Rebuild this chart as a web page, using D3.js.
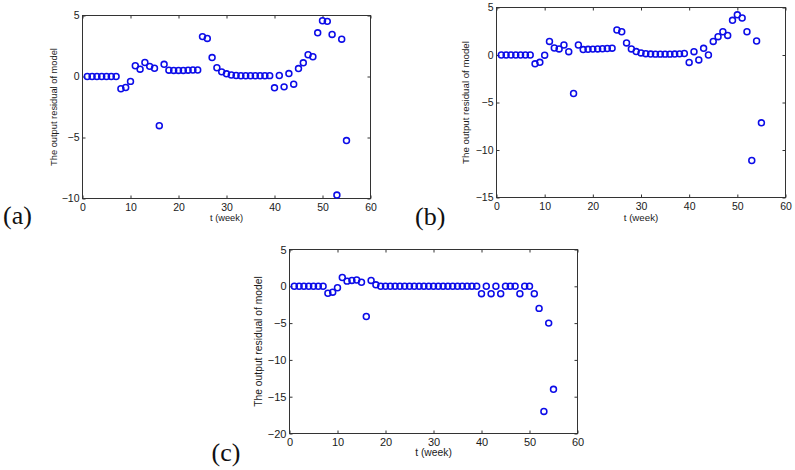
<!DOCTYPE html>
<html><head><meta charset="utf-8">
<script src="https://cdn.jsdelivr.net/npm/d3@7"></script>
<style>html,body{margin:0;padding:0;background:#fff}svg{display:block}</style>
</head><body><svg id="chart" width="795" height="470"></svg>
<script>
// ---------- data ----------
const weeks = [1,2,3,4,5,6,7,8,9,10,11,12,13,14,15,16,17,18,19,20,21,22,23,24,25,26,27,28,29,30,
  31,32,33,34,35,36,37,38,39,40,41,42,43,44,45,46,47,48,49,50,51,52,53,54,55];
const residualA = [0,0,0,0,0,0,0,-1.0,-0.9,-0.4,0.88,0.6,1.15,0.83,0.68,-4.03,1.0,0.52,0.5,0.5,
  0.5,0.52,0.53,0.53,3.27,3.12,1.55,0.72,0.38,0.22,0.12,0.08,0.06,0.06,0.06,0.06,0.06,0.06,0.07,-0.93,
  0.08,-0.85,0.24,-0.63,0.65,1.12,1.78,1.62,3.58,4.57,4.52,3.45,-9.72,3.06,-5.25];
const residualB = [0,0,0,0,0,0,0,-0.93,-0.77,-0.02,1.43,0.74,0.64,1.05,0.35,-4.05,1.05,0.57,0.6,0.62,
  0.64,0.66,0.68,0.72,2.63,2.45,1.27,0.64,0.36,0.22,0.14,0.1,0.09,0.09,0.09,0.09,0.1,0.12,0.16,-0.78,
  0.35,-0.52,0.7,0.0,1.43,1.93,2.45,2.06,3.65,4.23,3.9,2.45,-11.1,1.47,-7.14];
const residualC = [0,0,0,0,0,0,0,-0.95,-0.8,-0.2,1.2,0.7,0.8,0.85,0.55,-4.1,0.8,0.2,0,0,
  0,0,0,0,0,0,0,0,0,0,0,0,0,0,0,0,0,0,0,-1,
  0,-1,0,-1,0,0,0,-1,0,0,-1,-3,-17,-5,-14];
const xTicks = [0,10,20,30,40,50,60];
const yTicksA = [5,0,-5,-10];
const yTicksB = [5,0,-5,-10,-15];
const yTicksC = [5,0,-5,-10,-15,-20];
const panelLabels = ["(a)","(b)","(c)"];
const xTitle = "t (week)";
const yTitle = "The output residual of model";

// ---------- layout ----------
const panels = [
  {values: residualA, yDomain: [-10, 5], yTicks: yTicksA, label: panelLabels[0],
   l: 82.5, r: 370.5, t: 15.5, b: 198.5, tickFs: 10.5, titleFs: 9.3,
   yTitleX: 54, xTitleY: 220.8, labelX: 3, labelY: 223.5},
  {values: residualB, yDomain: [-15, 5], yTicks: yTicksB, label: panelLabels[1],
   l: 496.5, r: 785.5, t: 7.5, b: 197.5, tickFs: 10.5, titleFs: 9.7,
   yTitleX: 466, xTitleY: 221.2, labelX: 415, labelY: 225.3},
  {values: residualC, yDomain: [-20, 5], yTicks: yTicksC, label: panelLabels[2],
   l: 289.5, r: 577.5, t: 249.5, b: 433.5, tickFs: 11, titleFs: 10.3,
   yTitleX: 258.5, xTitleY: 456.3, labelX: 211.5, labelY: 461}
];

const svg = d3.select("#chart");
const font = "'Liberation Sans', Arial, Helvetica, sans-serif";
const axisColor = "#333";
const markColor = "#0c0ce8";

panels.forEach(p => {
  const x = d3.scaleLinear().domain([0, 60]).range([p.l, p.r]);
  const y = d3.scaleLinear().domain(p.yDomain).range([p.b, p.t]);
  const g = svg.append("g");

  const fmt = d => (d < 0 ? "\u2212" + Math.abs(d) : String(d));

  const styleAxis = sel => {
    sel.select(".domain").remove();
    sel.selectAll(".tick line").attr("stroke", axisColor).attr("stroke-width", 1);
    sel.selectAll(".tick text").attr("fill", "#1a1a1a")
      .style("font-family", font).style("font-size", p.tickFs + "px");
  };

  g.append("g").attr("transform", `translate(0,${p.b})`)
    .call(d3.axisBottom(x).tickValues(xTicks).tickSize(-3).tickPadding(5).tickFormat(fmt))
    .call(styleAxis);
  g.append("g").attr("transform", `translate(0,${p.t})`)
    .call(d3.axisTop(x).tickValues(xTicks).tickSize(-3).tickFormat(""))
    .call(styleAxis);
  g.append("g").attr("transform", `translate(${p.l},0)`)
    .call(d3.axisLeft(y).tickValues(p.yTicks).tickSize(-3).tickPadding(3).tickFormat(fmt))
    .call(styleAxis);
  g.append("g").attr("transform", `translate(${p.r},0)`)
    .call(d3.axisRight(y).tickValues(p.yTicks).tickSize(-3).tickFormat(""))
    .call(styleAxis);

  g.append("rect")
    .attr("x", p.l).attr("y", p.t)
    .attr("width", p.r - p.l).attr("height", p.b - p.t)
    .attr("fill", "none").attr("stroke", axisColor).attr("stroke-width", 1);

  g.append("g").selectAll("circle")
    .data(weeks.map((w, i) => ({w, v: p.values[i]})))
    .join("circle")
    .attr("cx", d => x(d.w)).attr("cy", d => y(d.v))
    .attr("r", 2.95)
    .attr("fill", "none").attr("stroke", markColor).attr("stroke-width", 1.55);

  g.append("text")
    .attr("x", (p.l + p.r) / 2).attr("y", p.xTitleY)
    .attr("text-anchor", "middle")
    .style("font-family", font).style("font-size", p.titleFs + "px").attr("fill", "#1a1a1a")
    .text(xTitle);

  g.append("text")
    .attr("transform", `translate(${p.yTitleX},${(p.t + p.b) / 2}) rotate(-90)`)
    .attr("text-anchor", "middle").attr("dy", "0.35em")
    .style("font-family", font).style("font-size", p.titleFs + "px").attr("fill", "#1a1a1a")
    .text(yTitle);

  svg.append("text")
    .attr("x", p.labelX).attr("y", p.labelY)
    .style("font-family", "'Liberation Serif', 'Times New Roman', serif")
    .style("font-size", "26px").attr("fill", "#111")
    .text(p.label);
});
</script>
</body></html>
